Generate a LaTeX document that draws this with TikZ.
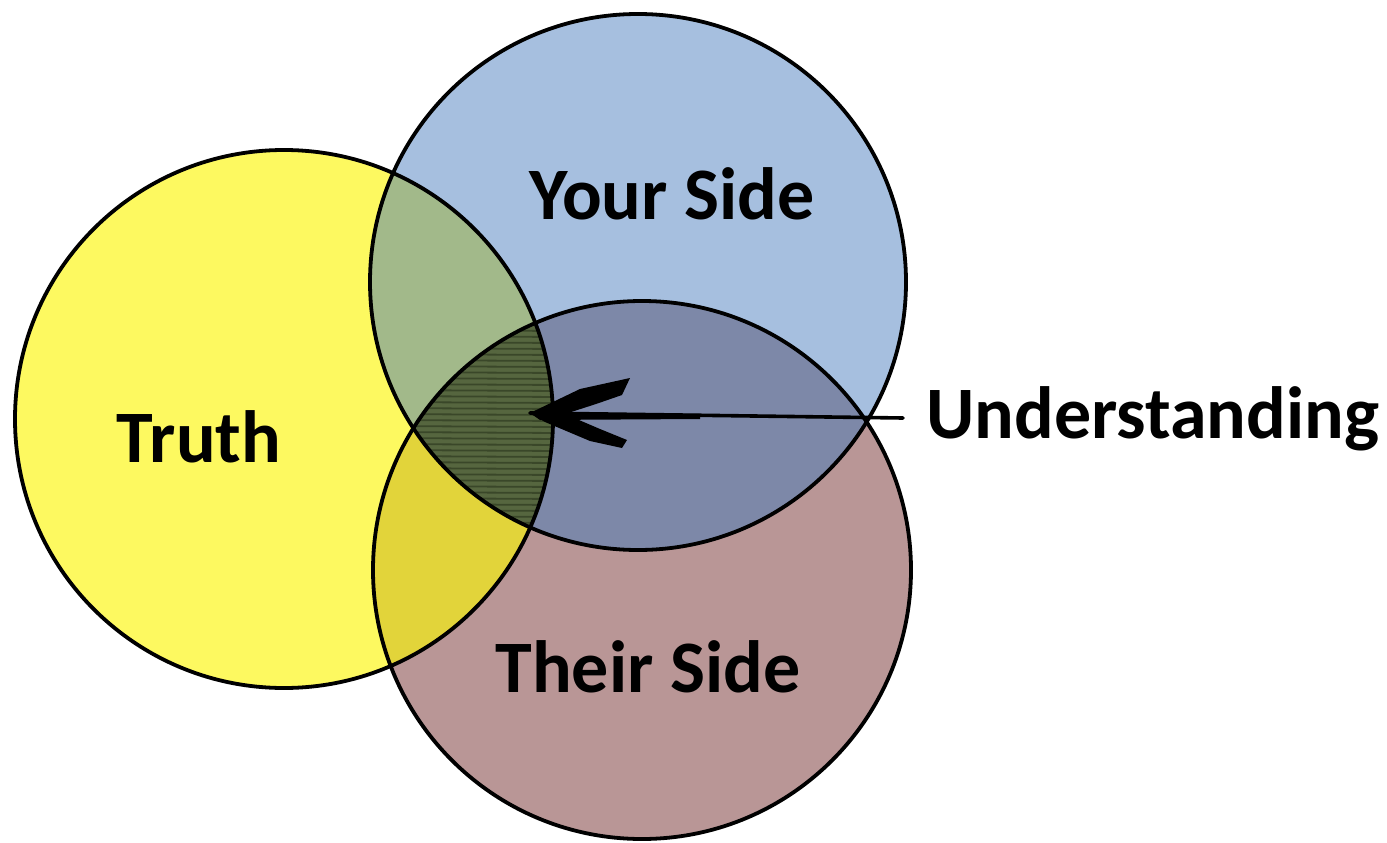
\documentclass[tikz,border=0pt]{standalone}
\usepackage{fontspec}
\setmainfont{Carlito}
\definecolor{truthc}{HTML}{FDF960}
\definecolor{yourc}{HTML}{A6BFDF}
\definecolor{theirc}{HTML}{B99696}
\definecolor{tyc}{HTML}{A2B98A}
\definecolor{ttc}{HTML}{E2D43A}
\definecolor{ytc}{HTML}{7D88A8}
\definecolor{allc}{HTML}{56663F}
\definecolor{hatchc}{HTML}{3A4729}
\tikzset{
  outline/.style={draw=black, line width=3.8pt},
  lbl/.style={font=\fontsize{74}{88}\selectfont\bfseries, text=black, inner sep=0pt},
}
\begin{document}
\begin{tikzpicture}[x=1pt,y=-1pt]
\useasboundingbox (0,0) rectangle (1387,843);
\fill[white] (0,0) rectangle (1387,843);
\def\Tr{(284,419) circle (269pt)}
\def\Yr{(638,282) circle (268pt)}
\def\Th{(642,570) circle (269pt)}
% base fills
\fill[truthc] \Tr;
\fill[yourc] \Yr;
\fill[theirc] \Th;
% pairwise
\begin{scope}\clip \Tr; \fill[tyc] \Yr; \end{scope}
\begin{scope}\clip \Tr; \fill[ttc] \Th; \end{scope}
\begin{scope}\clip \Yr; \fill[ytc] \Th; \end{scope}
% triple with hatching
\begin{scope}
  \clip \Tr; \clip \Yr; \clip \Th;
  \fill[allc] (380,290) rectangle (560,540);
  \foreach \yy in {300,306,...,540} {
    \draw[hatchc, line width=1.8pt] (380,\yy) -- (560,\yy+1);
  }
\end{scope}
% outlines
\draw[outline] \Tr;
\draw[outline] \Yr;
\draw[outline] \Th;
% labels
\node[lbl] (your) at (672,194) {Your Side};
\node[lbl] (truth) at (199,437) {Truth};
\node[lbl] (their) at (648,667) {Their Side};
\node[lbl, anchor=west] (und) at (926,419) {Understanding};
% arrow
\coordinate (tail) at (903,418);
\coordinate (tip) at (530,413);
\draw[black, line width=3.6pt, line cap=round] (tail) -- (tip);
\fill[black] (tip) -- (700,414) -- (700,419) -- (540,420) -- cycle;
\fill[black] (tip) -- (580,389) -- (630,378) -- (622,395) -- (596,404) -- (565,414) -- cycle;
\fill[black] (tip) -- (565,414) -- (600,429) -- (627,440) -- (622,448) -- (590,441) -- (545,422) -- cycle;
\end{tikzpicture}
\end{document}
